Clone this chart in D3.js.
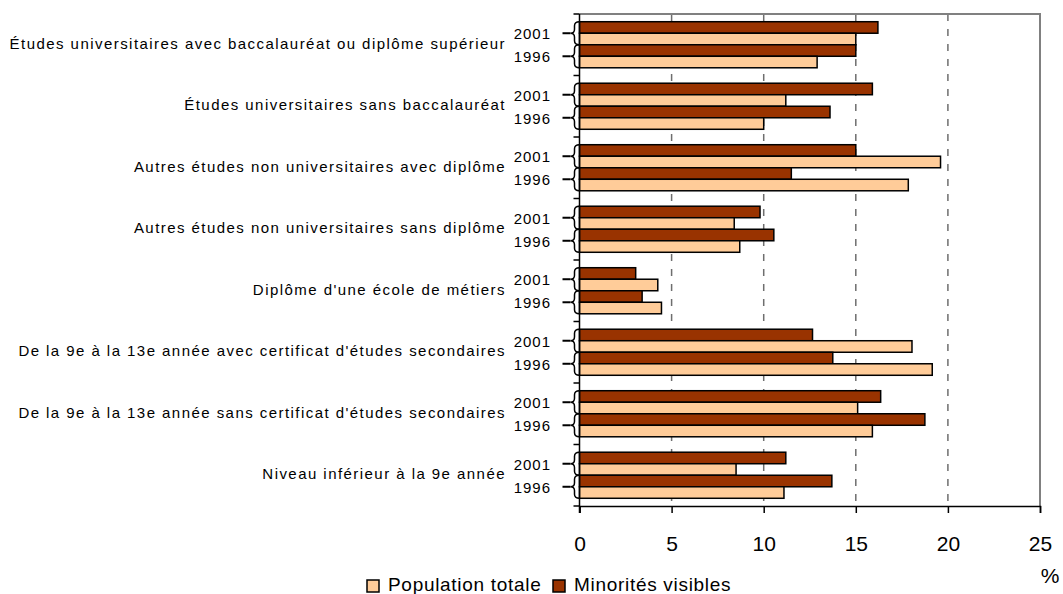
<!DOCTYPE html>
<html>
<head>
<meta charset="utf-8">
<script src="https://cdn.jsdelivr.net/npm/d3@7"></script>
<style>
  body { margin: 0; background: #fff; }
  text { font-family: "Liberation Sans", Arial, sans-serif; fill: #000; }
</style>
</head>
<body>
<div id="chart"></div>
<script>
// chart values (%)
var categories = [
  "Études universitaires avec baccalauréat ou diplôme supérieur",
  "Études universitaires sans baccalauréat",
  "Autres études non universitaires avec diplôme",
  "Autres études non universitaires sans diplôme",
  "Diplôme d'une école de métiers",
  "De la 9e à la 13e année avec certificat d'études secondaires",
  "De la 9e à la 13e année sans certificat d'études secondaires",
  "Niveau inférieur à la 9e année"
];
var years = ["2001", "1996"];
var seriesNames = ["Population totale", "Minorités visibles"];
var popTotale2001 = [15.0, 11.2, 19.6, 8.4, 4.25, 18.05, 15.1, 8.5];
var popTotale1996 = [12.9, 10.0, 17.85, 8.7, 4.45, 19.15, 15.9, 11.1];
var minorites2001 = [16.2, 15.9, 15.0, 9.8, 3.05, 12.65, 16.35, 11.2];
var minorites1996 = [15.0, 13.6, 11.5, 10.55, 3.4, 13.75, 18.75, 13.7];
var xTicks = [0, 5, 10, 15, 20, 25];

var svgWidth = 1063;
var svgHeight = 594;
var plot = { left: 579.5, right: 1040, top: 14, bottom: 506 };

var colors = { "Population totale": "#FFCC99", "Minorités visibles": "#993300" };

var svg = d3.select("#chart")
  .append("svg")
  .attr("width", svgWidth)
  .attr("height", svgHeight);

// scales
var x = d3.scaleLinear().domain([0, 25]).range([plot.left, plot.right]);
var yGroup = d3.scaleBand().domain(categories).range([plot.top, plot.bottom]).padding(0);
var barKeys = ["m2001", "p2001", "m1996", "p1996"];
var yBar = d3.scaleBand().domain(barKeys).range([0, yGroup.bandwidth()])
  .paddingInner(0).paddingOuter(0.67);

// one row per bar
var bars = [];
categories.forEach(function(c, i) {
  bars.push({ cat: c, key: "m2001", series: "Minorités visibles", value: minorites2001[i] });
  bars.push({ cat: c, key: "p2001", series: "Population totale", value: popTotale2001[i] });
  bars.push({ cat: c, key: "m1996", series: "Minorités visibles", value: minorites1996[i] });
  bars.push({ cat: c, key: "p1996", series: "Population totale", value: popTotale1996[i] });
});

// dashed gridlines (drawn under the bars)
svg.append("g").selectAll("line")
  .data(xTicks.filter(function(t) { return t > 0 && t < 25; }))
  .enter()
  .append("line")
  .attr("x1", d => x(d)).attr("x2", d => x(d))
  .attr("y1", plot.top).attr("y2", plot.bottom)
  .attr("stroke", "#6e6e6e")
  .attr("stroke-width", 1.5)
  .attr("stroke-dasharray", "7,8");

// top and right frame
svg.append("path")
  .attr("d", `M${plot.left},${plot.top}H${plot.right}V${plot.bottom}`)
  .attr("fill", "none")
  .attr("stroke", "#808080")
  .attr("stroke-width", 2);

// bars
svg.append("g").selectAll("rect")
  .data(bars)
  .enter()
  .append("rect")
  .attr("x", x(0))
  .attr("y", d => yGroup(d.cat) + yBar(d.key))
  .attr("width", d => x(d.value) - x(0))
  .attr("height", yBar.bandwidth())
  .attr("fill", d => colors[d.series])
  .attr("stroke", "#000")
  .attr("stroke-width", 1.5);

// bottom axis
var bottomAxis = d3.axisBottom(x).tickValues(xTicks).tickSize(7).tickPadding(23);
var xAxis = svg.append("g")
  .attr("transform", `translate(0, ${plot.bottom})`)
  .call(bottomAxis);
xAxis.select(".domain").attr("stroke", "#000").attr("stroke-width", 1.5);
xAxis.selectAll(".tick line").attr("stroke", "#000").attr("stroke-width", 1.5);
xAxis.selectAll(".tick text")
  .attr("font-size", "21px")
  .attr("font-family", "Liberation Sans, Arial, sans-serif")
  .attr("fill", "#000");

// left axis line + ticks at group boundaries
svg.append("line")
  .attr("x1", plot.left).attr("x2", plot.left)
  .attr("y1", plot.top).attr("y2", plot.bottom + 7)
  .attr("stroke", "#000").attr("stroke-width", 1.5);
var bounds = categories.map(c => yGroup(c)).concat([plot.bottom]);
svg.append("g").selectAll("line")
  .data(bounds)
  .enter()
  .append("line")
  .attr("x1", plot.left - 6).attr("x2", plot.left)
  .attr("y1", d => d).attr("y2", d => d)
  .attr("stroke", "#000").attr("stroke-width", 1.5);

// category labels
svg.append("g").selectAll("text")
  .data(categories)
  .enter()
  .append("text")
  .attr("x", 506)
  .attr("y", d => yGroup(d) + yGroup.bandwidth() / 2 + 4)
  .attr("text-anchor", "end")
  .attr("font-size", "15px")
  .attr("letter-spacing", "1.45px")
  .text(d => d);

// year braces and labels
var braces = [];
categories.forEach(function(c) {
  years.forEach(function(yr) {
    var y0 = yGroup(c) + yBar("m" + yr);
    var y1 = y0 + 2 * yBar.bandwidth();
    braces.push({ year: yr, y0: y0, y1: y1, mid: (y0 + y1) / 2 });
  });
});

function bracePath(d) {
  var xr = plot.left, xm = plot.left - 5, xl = plot.left - 9, r = 4;
  return `M${xr},${d.y0}Q${xm},${d.y0} ${xm},${d.y0 + r}` +
    `L${xm},${d.mid - r}Q${xm},${d.mid} ${xl},${d.mid}` +
    `Q${xm},${d.mid} ${xm},${d.mid + r}` +
    `L${xm},${d.y1 - r}Q${xm},${d.y1} ${xr},${d.y1}`;
}

var braceGroup = svg.append("g");
braceGroup.selectAll("path")
  .data(braces)
  .enter()
  .append("path")
  .attr("d", bracePath)
  .attr("fill", "none")
  .attr("stroke", "#000")
  .attr("stroke-width", 1.5);
braceGroup.selectAll("line")
  .data(braces)
  .enter()
  .append("line")
  .attr("x1", plot.left - 17).attr("x2", plot.left - 9)
  .attr("y1", d => d.mid).attr("y2", d => d.mid)
  .attr("stroke", "#000").attr("stroke-width", 2);
braceGroup.selectAll("text")
  .data(braces)
  .enter()
  .append("text")
  .attr("x", 551)
  .attr("y", d => d.mid + 6)
  .attr("text-anchor", "end")
  .attr("font-size", "15px")
  .attr("letter-spacing", "1px")
  .text(d => d.year);

// unit
svg.append("text")
  .attr("x", 1050)
  .attr("y", 583)
  .attr("text-anchor", "middle")
  .attr("font-size", "21px")
  .text("%");

// legend
var legendX = [367, 553];
var legend = svg.append("g").selectAll("g")
  .data(seriesNames)
  .enter()
  .append("g")
  .attr("transform", (d, i) => `translate(${legendX[i]}, 580)`);
legend.append("rect")
  .attr("width", 12).attr("height", 12)
  .attr("fill", d => colors[d])
  .attr("stroke", "#000").attr("stroke-width", 1.5);
legend.append("text")
  .attr("x", 21)
  .attr("y", 11)
  .attr("font-size", "19px")
  .attr("letter-spacing", "0.7px")
  .text(d => d);
</script>
</body>
</html>
